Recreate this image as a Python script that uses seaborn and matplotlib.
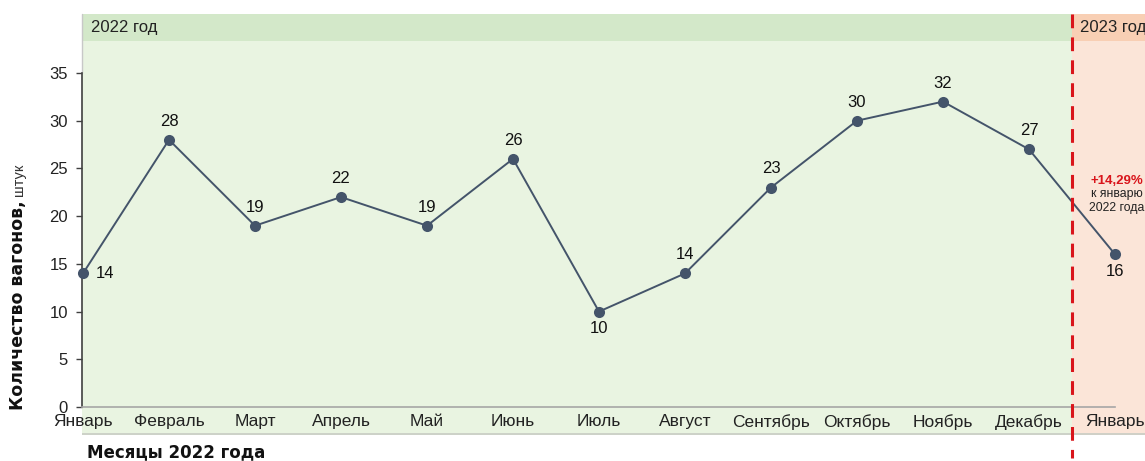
import matplotlib
matplotlib.use("Agg")
import matplotlib.pyplot as plt
import seaborn as sns
import pandas as pd

months = ["Январь", "Февраль", "Март", "Апрель", "Май", "Июнь", "Июль",
          "Август", "Сентябрь", "Октябрь", "Ноябрь", "Декабрь", "Январь"]
values = [14, 28, 19, 22, 19, 26, 10, 14, 23, 30, 32, 27, 16]
label_pos = ["right", "above", "above", "above", "above", "above", "below",
             "above", "above", "above", "above", "above", "below"]
yticks = [0, 5, 10, 15, 20, 25, 30, 35]

sns.set_theme(style="white")
plt.rcParams['font.family'] = ['Liberation Sans', 'DejaVu Sans']

df = pd.DataFrame({"x": range(len(values)), "y": values})

W, H = 1145, 461
fig = plt.figure(figsize=(W / 100, H / 100), dpi=100)
L, R, T, B = 82, 1145, 14, 435
ax = fig.add_axes([L / W, (H - B) / H, (R - L) / W, (B - T) / H])
ax.set_facecolor("none")

px_per_x = 86.0
x0px = 83
xlo = (L - x0px) / px_per_x
xhi = (R - x0px) / px_per_x
ylo, yhi = -2.93, 41.18
ax.set_xlim(xlo, xhi)
ax.set_ylim(ylo, yhi)

# backgrounds
split = 11.5
green, green_h = "#E9F4E1", "#D3E8C9"
pink, pink_h = "#FBE5D8", "#F8CFB4"
ax.axvspan(xlo, split, color=green, zorder=0, lw=0)
ax.axvspan(split, xhi, color=pink, zorder=0, lw=0)
ax.fill_between([xlo, split], 38.3, yhi, color=green_h, zorder=0.5, lw=0)
ax.fill_between([split, xhi], 38.3, yhi, color=pink_h, zorder=0.5, lw=0)
ax.axhline(ylo + 0.1, color="#C8CCC4", lw=1.2, zorder=0.6)
ax.plot([xlo, xlo], [35, yhi], color="#C8C8C8", lw=1, zorder=0.6, clip_on=False)

ax.text(0.09, 39.75, "2022 год", fontsize=12, va="center", ha="left", color="#222222")
ax.text(split + 0.09, 39.75, "2023 год", fontsize=12, va="center", ha="left", color="#222222")

# line
sns.lineplot(data=df, x="x", y="y", ax=ax, color="#44546A", lw=1.4,
             marker="o", markersize=8, markeredgewidth=0, zorder=3, clip_on=False)

for i, (v, p) in enumerate(zip(values, label_pos)):
    if p == "above":
        ax.annotate(str(v), (i, v), xytext=(0, 8), textcoords="offset points",
                    ha="center", va="bottom", fontsize=12, color="#111111")
    elif p == "below":
        ax.annotate(str(v), (i, v), xytext=(0, -7), textcoords="offset points",
                    ha="center", va="top", fontsize=12, color="#111111")
    else:
        ax.annotate(str(v), (i, v), xytext=(9, 0), textcoords="offset points",
                    ha="left", va="center", fontsize=12, color="#111111")

# red dashed divider
ax.plot([split, split], [yhi, -5.35], color="#D9151B", lw=2.2, ls=(0, (4.5, 3)),
        zorder=4, clip_on=False)

# annotation
ax.text(12.02, 23.7, "+14,29%", color="#D9151B", fontsize=9.5, fontweight="bold",
        ha="center", va="center")
ax.text(12.02, 22.3, "к январю", color="#222222", fontsize=8.8, ha="center", va="center")
ax.text(12.02, 20.9, "2022 года", color="#222222", fontsize=8.8, ha="center", va="center")

# spines
for s in ["top", "right"]:
    ax.spines[s].set_visible(False)
ax.spines["left"].set_bounds(0, 35)
ax.spines["left"].set_color("#404040")
ax.spines["left"].set_linewidth(1.2)
ax.spines["left"].set_zorder(2)
ax.spines["bottom"].set_position(("data", 0))
ax.spines["bottom"].set_bounds(xlo, 12)
ax.spines["bottom"].set_color("#A6A6A6")
ax.spines["bottom"].set_linewidth(1.2)

ax.set_yticks(yticks)
ax.set_yticklabels([str(t) for t in yticks])
ax.tick_params(axis="y", length=4, width=1, color="#404040", pad=6,
               labelsize=12, labelcolor="#222222", left=True)
ax.set_xticks(range(len(months)))
ax.set_xticklabels(months)
ax.tick_params(axis="x", length=0, pad=5, labelsize=12.5, labelcolor="#222222")
ax.set_xlabel("")
ax.set_ylabel("")

# axis titles
t1 = fig.text(18 / W, 1 - 410 / H, "Количество вагонов,", rotation=90, fontsize=12.5,
              fontweight="bold", ha="center", va="bottom", color="#111111",
              family=["DejaVu Sans"])
fig.canvas.draw()
bb = t1.get_window_extent()
top_px = bb.y1  # display coords from bottom
fig.text(19 / W, (top_px + 4) / H, "штук", rotation=90, fontsize=10.5,
         ha="center", va="bottom", color="#333333")
fig.text(87 / W, 1 - 452 / H, "Месяцы 2022 года", fontsize=12, fontweight="bold",
         ha="left", va="center", color="#111111", family=["DejaVu Sans"])

fig.savefig("out.png", dpi=100)
